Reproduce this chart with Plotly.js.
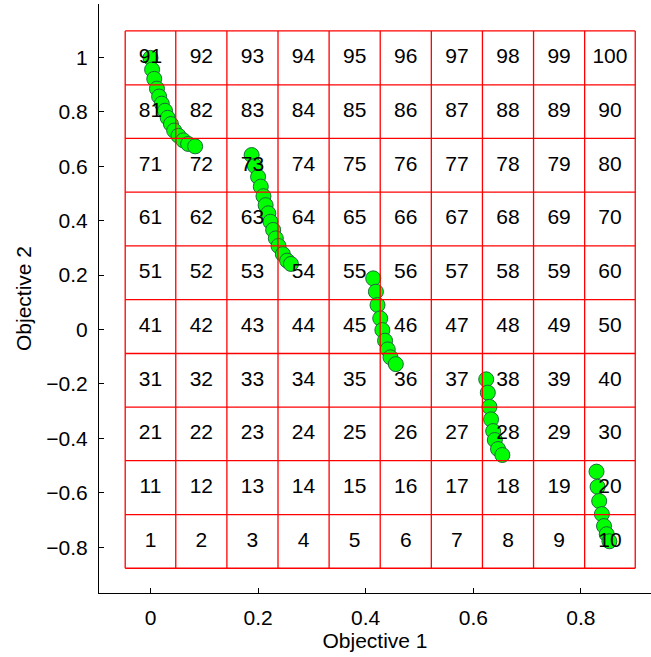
<!DOCTYPE html>
<html>
<head>
<meta charset="utf-8">
<script src="https://cdn.plot.ly/plotly-3.0.1.min.js"></script>
<style>
  html, body { margin: 0; padding: 0; background: #fff; }
  #chart { width: 651px; height: 657px; }
</style>
</head>
<body>
<div id="chart"></div>
<script>
// Population in objective space (five separate fronts)
const obj1 = [
  0.000, 0.003, 0.007, 0.012, 0.016, 0.021, 0.027, 0.032, 0.038, 0.044, 0.052, 0.061, 0.070, 0.083,
  0.188, 0.194, 0.200, 0.205, 0.210, 0.214, 0.219, 0.223, 0.228, 0.233, 0.238, 0.246, 0.254, 0.261,
  0.414, 0.419, 0.422, 0.427, 0.431, 0.436, 0.441, 0.446, 0.456,
  0.624, 0.627, 0.630, 0.633, 0.637, 0.640, 0.646, 0.654,
  0.829, 0.831, 0.834, 0.839, 0.843, 0.848, 0.853
];
const obj2 = [
  0.998, 0.955, 0.921, 0.885, 0.856, 0.830, 0.804, 0.778, 0.755, 0.731, 0.712, 0.695, 0.682, 0.673,
  0.641, 0.601, 0.561, 0.525, 0.490, 0.457, 0.427, 0.396, 0.366, 0.335, 0.307, 0.277, 0.253, 0.241,
  0.188, 0.139, 0.090, 0.041, -0.002, -0.041, -0.073, -0.102, -0.127,
  -0.183, -0.232, -0.284, -0.330, -0.373, -0.406, -0.439, -0.461,
  -0.522, -0.578, -0.630, -0.678, -0.722, -0.752, -0.778
];

// Hyperbox grid boundaries (10 x 10 cells)
const xEdges = [-0.047, 0.047, 0.142, 0.237, 0.332, 0.427, 0.522, 0.617, 0.712, 0.807, 0.901];
const yEdges = [-0.877, -0.680, -0.482, -0.285, -0.088, 0.110, 0.307, 0.505, 0.702, 0.899, 1.097];

// Axis ticks
const xTicks = [0, 0.2, 0.4, 0.6, 0.8];
const xTickText = ['0', '0.2', '0.4', '0.6', '0.8'];
const yTicks = [-0.8, -0.6, -0.4, -0.2, 0, 0.2, 0.4, 0.6, 0.8, 1];
const yTickText = ['\u22120.8', '\u22120.6', '\u22120.4', '\u22120.2', '0', '0.2', '0.4', '0.6', '0.8', '1'];

const FONT = '"Liberation Sans", Arial, Helvetica, sans-serif';
const INK = '#000';

// Grid lines, one polyline per edge separated by nulls
const gx = [], gy = [];
const yLo = yEdges[0], yHi = yEdges[yEdges.length - 1];
const xLo = xEdges[0], xHi = xEdges[xEdges.length - 1];
xEdges.forEach(x => { gx.push(x, x, null); gy.push(yLo, yHi, null); });
yEdges.forEach(y => { gx.push(xLo, xHi, null); gy.push(y, y, null); });

// Cell index labels, numbered row by row from the bottom left
const cx = [], cy = [], ct = [];
for (let r = 0; r < yEdges.length - 1; r++) {
  for (let c = 0; c < xEdges.length - 1; c++) {
    cx.push((xEdges[c] + xEdges[c + 1]) / 2);
    cy.push((yEdges[r] + yEdges[r + 1]) / 2);
    ct.push(String(r * (xEdges.length - 1) + c + 1));
  }
}

const traces = [
  {
    x: obj1, y: obj2, type: 'scatter', mode: 'markers',
    marker: { size: 15, color: '#00ff00', line: { color: '#1d6b3a', width: 1 } },
    hoverinfo: 'skip', showlegend: false
  },
  {
    x: gx, y: gy, type: 'scatter', mode: 'lines',
    line: { color: '#ff0000', width: 1.3 },
    hoverinfo: 'skip', showlegend: false, connectgaps: false
  },
  {
    x: cx, y: cy, text: ct, type: 'scatter', mode: 'text',
    textposition: 'middle center',
    textfont: { family: FONT, size: 21, color: INK },
    hoverinfo: 'skip', showlegend: false
  }
];

const layout = {
  width: 651, height: 657,
  margin: { l: 99, r: 0, t: 4, b: 64, pad: 0 },
  paper_bgcolor: '#fff', plot_bgcolor: '#fff',
  showlegend: false,
  font: { family: FONT, size: 21, color: INK },
  xaxis: {
    range: [-0.0957, 0.9303],
    tickvals: xTicks, ticktext: xTickText,
    ticks: 'inside', ticklen: 5, tickwidth: 1, tickcolor: '#000',
    showline: true, linecolor: '#000', linewidth: 1,
    showgrid: false, zeroline: false,
    tickfont: { family: FONT, size: 21, color: INK },
    ticklabelstandoff: 6,
    title: { text: 'Objective 1', font: { family: FONT, size: 21, color: INK }, standoff: 2 }
  },
  yaxis: {
    range: [-0.968, 1.196],
    tickvals: yTicks, ticktext: yTickText,
    ticks: 'inside', ticklen: 5, tickwidth: 1, tickcolor: '#000',
    showline: true, linecolor: '#000', linewidth: 1,
    showgrid: false, zeroline: false,
    tickfont: { family: FONT, size: 21, color: INK },
    ticklabelstandoff: 6,
    title: { text: 'Objective 2', font: { family: FONT, size: 21, color: INK }, standoff: 8 }
  }
};

Plotly.newPlot('chart', traces, layout, { staticPlot: true, displayModeBar: false });
</script>
</body>
</html>
